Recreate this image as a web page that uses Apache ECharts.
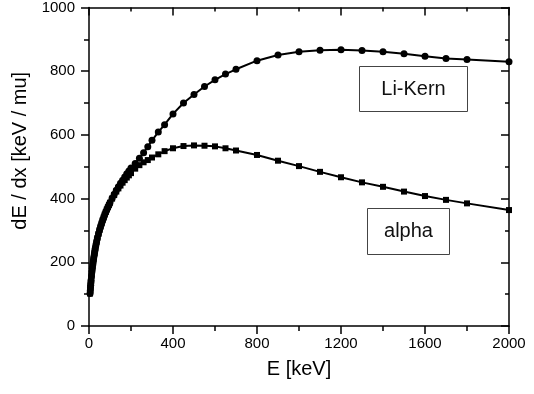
<!DOCTYPE html>
<html>
<head>
<meta charset="utf-8">
<script src="https://cdn.jsdelivr.net/npm/echarts@6/dist/echarts.min.js"></script>
<style>
  html, body { margin: 0; padding: 0; background: #fff; }
  #main { width: 534px; height: 394px; }
</style>
</head>
<body>
<div id="main"></div>
<script>
// energy grid [keV]
var energy = [5, 6, 7, 8, 9, 10, 12, 14, 16, 18, 20, 22, 24, 26, 28, 30, 33, 36, 40,
    45, 50, 55, 60, 65, 70, 75, 80, 85, 90, 95, 100,
    110, 120, 130, 140, 150, 160, 170, 180, 190, 200,
    220, 240, 260, 280, 300, 330, 360, 400, 450, 500, 550, 600, 650, 700, 800, 900,
    1000, 1100, 1200, 1300, 1400, 1500, 1600, 1700, 1800, 2000];
// dE/dx [keV / mu]
var liKern = [102, 111, 120, 128, 136, 144, 157, 170, 181, 192, 202, 211, 220, 228, 236, 244, 254, 264, 276,
    289, 301, 312, 322, 332, 341, 350, 358, 366, 373, 380, 388,
    401, 414, 426, 437, 448, 458, 468, 478, 487, 496,
    510, 527, 544, 563, 583, 609, 632, 666, 700, 727, 752, 773, 791, 806, 833, 851,
    861, 866, 867, 865, 861, 855, 847, 840, 837, 830];
var alpha = [102, 111, 120, 128, 136, 144, 157, 170, 181, 192, 202, 211, 220, 228, 236, 244, 254, 264, 276,
    289, 301, 312, 322, 332, 341, 350, 358, 366, 373, 380, 387,
    400, 411, 422, 432, 441, 450, 458, 466, 473, 480,
    494, 505, 514, 521, 529, 539, 549, 558, 565, 567, 566, 564, 558, 551, 537, 519,
    502, 484, 467, 451, 437, 422, 408, 396, 385, 364];

var font = 'Liberation Sans, Arial, sans-serif';

function pairs(ys) {
    return energy.map(function (e, i) { return [e, ys[i]]; });
}
function plain(v) { return String(v); }

var myChart = echarts.init(document.getElementById('main'));

var option = {
    animation: false,
    grid: { left: 89, right: 25, top: 7, bottom: 68 },
    xAxis: [{
        type: 'value', min: 0, max: 2000, interval: 400,
        name: 'E [keV]', nameLocation: 'middle', nameGap: 33,
        nameTextStyle: { fontFamily: font, fontSize: 20, color: '#000' },
        axisLine: { onZero: false, lineStyle: { color: '#000', width: 1.5 } },
        axisTick: { length: 8, lineStyle: { color: '#000', width: 1.5 } },
        minorTick: { show: true, splitNumber: 2, length: 5, lineStyle: { color: '#000', width: 1.5 } },
        axisLabel: { fontFamily: font, fontSize: 15, color: '#000', margin: 10, formatter: plain },
        splitLine: { show: false }
    }, {
        type: 'value', min: 0, max: 2000, interval: 400, position: 'top',
        axisLine: { onZero: false, lineStyle: { color: '#000', width: 1.5 } },
        axisTick: { inside: true, length: 8, lineStyle: { color: '#000', width: 1.5 } },
        minorTick: { show: true, splitNumber: 2, length: 4, lineStyle: { color: '#000', width: 1.5 } },
        axisLabel: { show: false },
        splitLine: { show: false }
    }],
    yAxis: [{
        type: 'value', min: 0, max: 1000, interval: 200,
        name: 'dE / dx [keV / mu]', nameLocation: 'middle', nameGap: 42,
        nameTextStyle: { fontFamily: font, fontSize: 20, color: '#000', padding: [0, 0, 0, 32] },
        axisLine: { show: true, onZero: false, lineStyle: { color: '#000', width: 1.5 } },
        axisTick: { show: true, length: 8, lineStyle: { color: '#000', width: 1.5 } },
        minorTick: { show: true, splitNumber: 2, length: 5, lineStyle: { color: '#000', width: 1.5 } },
        axisLabel: { fontFamily: font, fontSize: 15, color: '#000', margin: 14, formatter: plain },
        splitLine: { show: false }
    }, {
        type: 'value', min: 0, max: 1000, interval: 200, position: 'right',
        axisLine: { show: true, onZero: false, lineStyle: { color: '#000', width: 1.5 } },
        axisTick: { show: true, inside: true, length: 8, lineStyle: { color: '#000', width: 1.5 } },
        minorTick: { show: true, splitNumber: 2, length: 4, lineStyle: { color: '#000', width: 1.5 } },
        axisLabel: { show: false },
        splitLine: { show: false }
    }],
    series: [{
        name: 'Li-Kern', type: 'line', data: pairs(liKern),
        symbol: 'circle', symbolSize: 7,
        itemStyle: { color: '#000' },
        lineStyle: { color: '#000', width: 2 }
    }, {
        name: 'alpha', type: 'line', data: pairs(alpha),
        symbol: 'rect', symbolSize: 6,
        itemStyle: { color: '#000' },
        lineStyle: { color: '#000', width: 2 }
    }],
    graphic: [{
        type: 'group', left: 359, top: 66,
        children: [{
            type: 'rect', shape: { x: 0, y: 0, width: 108, height: 45 },
            style: { fill: '#fff', stroke: '#444', lineWidth: 1 }
        }, {
            type: 'text', x: 54, y: 23,
            style: { text: 'Li-Kern', font: '20px ' + font, fill: '#111', align: 'center', verticalAlign: 'middle' }
        }]
    }, {
        type: 'group', left: 367, top: 208,
        children: [{
            type: 'rect', shape: { x: 0, y: 0, width: 82, height: 46 },
            style: { fill: '#fff', stroke: '#444', lineWidth: 1 }
        }, {
            type: 'text', x: 41, y: 23,
            style: { text: 'alpha', font: '20px ' + font, fill: '#111', align: 'center', verticalAlign: 'middle' }
        }]
    }]
};

myChart.setOption(option);
</script>
</body>
</html>
